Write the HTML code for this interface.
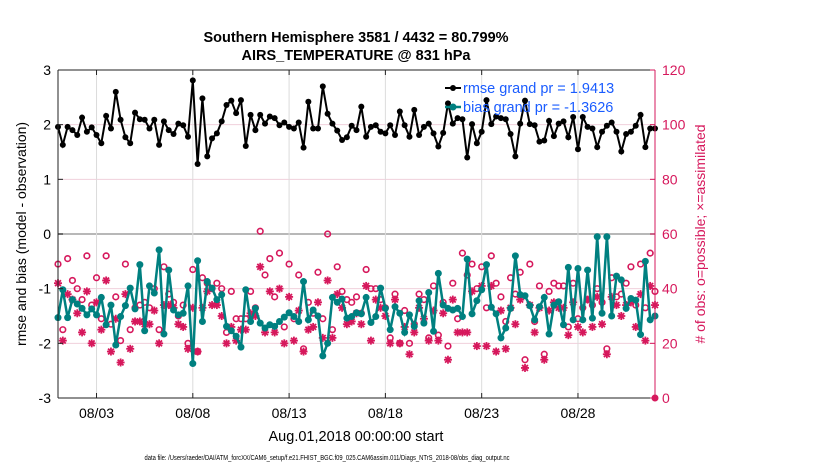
<!DOCTYPE html>
<html><head><meta charset="utf-8"><style>
body{margin:0;background:#fff;}
svg{display:block;font-family:"Liberation Sans",sans-serif;}
</style></head><body>
<svg id="chart" width="830" height="470">
<text x="356" y="42" text-anchor="middle" font-size="14.5" font-weight="bold">Southern Hemisphere 3581 / 4432 = 80.799%</text>
<text x="356" y="60" text-anchor="middle" font-size="14.5" font-weight="bold">AIRS_TEMPERATURE @ 831 hPa</text>
<g id="grid"></g>
<g id="marks"></g>
<g id="axes"></g>
<text x="0" y="0" transform="translate(26,234) rotate(-90)" text-anchor="middle" font-size="14">rmse and bias (model - observation)</text>
<text x="0" y="0" transform="translate(705,234) rotate(-90)" text-anchor="middle" font-size="14" fill="#d6185c"># of obs: o=possible; ×=assimilated</text>
<text x="356" y="441" text-anchor="middle" font-size="14.5">Aug.01,2018 00:00:00 start</text>
<text x="327" y="460" text-anchor="middle" font-size="7" textLength="365" lengthAdjust="spacingAndGlyphs">data file: /Users/raeder/DAI/ATM_forcXX/CAM6_setup/f.e21.FHIST_BGC.f09_025.CAM6assim.011/Diags_NTrS_2018-08/obs_diag_output.nc</text>
<g>
<line x1="445" y1="88" x2="461" y2="88" stroke="#000" stroke-width="2"/><circle cx="453" cy="88" r="3" fill="#000"/>
<text x="463" y="93" font-size="14.5" fill="#1a5cff">rmse grand pr = 1.9413</text>
<line x1="445" y1="107" x2="461" y2="107" stroke="#008080" stroke-width="2.5"/><circle cx="453" cy="107" r="3.5" fill="#008080"/>
<text x="463" y="112" font-size="14.5" fill="#1a5cff">bias grand pr = -1.3626</text>
</g>
</svg>
<script>
const rmse=[1.96,1.63,1.96,1.90,1.81,2.13,1.87,1.95,1.81,1.66,2.16,1.93,2.60,2.09,1.77,1.66,2.22,2.10,2.09,1.93,2.09,
1.63,2.06,1.90,1.83,2.02,1.99,1.78,2.81,1.28,2.48,1.42,1.75,1.84,2.06,2.36,2.44,2.21,2.45,1.61,2.18,1.90,
2.18,2.02,2.15,2.12,1.99,2.04,1.96,1.93,2.04,1.58,2.42,1.93,1.93,2.70,2.20,2.02,1.89,1.72,1.77,1.98,1.90,
2.33,1.78,1.96,1.99,1.87,1.84,1.99,1.81,2.24,1.99,1.78,2.27,1.81,1.96,2.02,1.84,1.60,1.85,2.39,2.02,
2.12,2.10,1.40,2.01,1.66,1.87,2.45,2.01,2.15,2.12,2.10,1.83,1.42,2.02,2.44,2.01,1.99,1.69,1.71,2.07,1.79,2.02,
2.06,1.77,2.14,1.55,2.14,1.96,1.93,1.59,1.87,1.98,2.04,1.87,1.51,1.83,1.87,1.98,2.18,1.59,1.93,1.93];
const bias=[-1.53,-1.02,-1.53,-1.20,-1.28,-1.36,-1.48,-1.37,-1.48,-1.16,-1.66,-1.30,-2.03,-1.51,-1.31,-0.99,-1.37,-0.56,-1.77,-0.95,-1.08,
-0.29,-1.83,-0.66,-1.39,-1.48,-1.45,-0.95,-2.37,-0.49,-1.60,-0.87,-0.99,-1.20,-1.11,-1.69,-1.77,-1.87,-2.07,-1.02,-1.60,-1.36,
-1.63,-1.72,-1.66,-1.69,-1.60,-1.52,-1.44,-1.51,-1.60,-0.87,-1.57,-1.39,-1.50,-2.23,-2.00,-1.16,-1.25,-1.19,-1.54,-1.51,-1.44,
-1.46,-1.16,-1.62,-1.51,-0.99,-1.36,-1.75,-1.33,-1.45,-1.80,-1.48,-1.69,-1.22,-1.63,-1.07,-1.78,-0.72,-1.30,-1.36,-1.39,
-1.36,-1.51,-0.46,-1.46,-1.22,-1.02,-0.56,-1.34,-1.46,-1.90,-1.72,-1.36,-0.40,-1.11,-1.13,-1.31,-1.57,-1.33,-1.16,-1.83,-1.30,-1.24,
-1.66,-0.61,-1.57,-0.63,-1.57,-0.66,-1.54,-0.05,-1.45,-0.05,-1.50,-0.77,-0.84,-1.36,-1.18,-1.21,-1.84,-0.50,-1.57,-1.50];
const possible=[49,25,51,43,40,36,52,34,44,29,52,27,37,21,49,25,33,34,35,33,40,
25,48,38,35,30,34,20,47,17,44,42,40,42,40,24,39,29,29,29,39,33,
61,45,51,37,53,26,49,29,45,18,35,31,46,29,60,25,48,39,36,35,37,
31,47,40,40,36,33,22,38,20,32,20,27,38,36,22,41,23,35,19,42,
29,53,45,49,40,48,33,52,42,37,28,44,38,46,14,49,28,41,16,39,42,41,
41,26,42,29,33,36,34,40,35,18,44,37,38,42,48,34,49,33,53,39];
const assimilated=[42,21,38,36,31,24,39,20,35,25,43,17,29,13,38,18,28,28,27,27,32,
20,34,34,33,27,26,18,33,17,33,39,34,34,30,20,26,21,25,25,31,30,
48,24,39,24,40,20,37,21,32,17,25,26,35,22,43,22,38,33,27,28,31,
27,41,21,36,33,30,20,36,20,26,16,24,33,29,21,32,21,31,14,36,
24,24,24,39,19,41,19,41,17,32,18,33,27,36,11,34,24,33,14,32,35,33,
33,23,35,26,24,36,26,37,27,16,37,34,30,34,35,26,38,21,41,34];
const xTickDays=[2,7,12,17,22,27];
const xTickLabels=["08/03","08/08","08/13","08/18","08/23","08/28"];
const yTicksLeft=[3,2,1,0,-1,-2,-3];
const yTicksRight=[0,20,40,60,80,100,120];

const L=58,R=655,T=70,B=398;
const X=d=>L+(d/31)*(R-L);
const Y=v=>T+(3-v)/6*(B-T);
const Y2=c=>B-c/120*(B-T);
const NS="http://www.w3.org/2000/svg";
function mk(tag,parent,attrs){const e=document.createElementNS(NS,tag);for(const k in attrs)e.setAttribute(k,attrs[k]);parent.appendChild(e);return e;}
const grid=document.getElementById('grid'),marks=document.getElementById('marks'),axes=document.getElementById('axes');
mk('rect',grid,{x:L,y:T,width:R-L,height:B-T,fill:'#fff'});
yTicksLeft.forEach(v=>{if(v===3||v===-3)return;
 const g=mk('line',grid,{x1:L,x2:R,y1:Y(v),y2:Y(v),stroke:v===0?'#b8b8b8':'#f0d0dc','stroke-width':v===0?2:1});
 });
xTickDays.forEach(d=>{const g=mk('line',grid,{x1:X(d),x2:X(d),y1:T,y2:B,stroke:'#dcdcdc','stroke-width':1});
 });
const dayOf=i=>i*0.25;
let p=rmse.map((v,i)=>X(dayOf(i)).toFixed(1)+','+Y(v).toFixed(1)).join(' ');
let ln=mk('polyline',marks,{points:p,fill:'none',stroke:'#000','stroke-width':2});

rmse.forEach((v,i)=>{const c=mk('circle',marks,{cx:X(dayOf(i)),cy:Y(v),r:3,fill:'#000'});
 });
possible.forEach((v,i)=>{const c=mk('circle',marks,{cx:X(dayOf(i)),cy:Y2(v),r:2.8,fill:'none',stroke:'#d6185c','stroke-width':1.6});
 });
assimilated.forEach((v,i)=>{const x=X(dayOf(i)),y=Y2(v);const g=mk('g',marks,{stroke:'#d6185c','stroke-width':1.8});
 
 [[4,0],[0,4],[2.9,2.9],[2.9,-2.9]].forEach(([a,b])=>mk('line',g,{x1:x-a,y1:y-b,x2:x+a,y2:y+b}));});
p=bias.map((v,i)=>X(dayOf(i)).toFixed(1)+','+Y(v).toFixed(1)).join(' ');
ln=mk('polyline',marks,{points:p,fill:'none',stroke:'#008080','stroke-width':2.5});

bias.forEach((v,i)=>{const c=mk('circle',marks,{cx:X(dayOf(i)),cy:Y(v),r:3.5,fill:'#008080'});
 });
const em=mk('circle',marks,{cx:R,cy:B,r:3.5,fill:'#d6185c'});

mk('line',axes,{x1:L,x2:R,y1:T,y2:T,stroke:'#222','stroke-width':1});
mk('line',axes,{x1:L,x2:R,y1:B,y2:B,stroke:'#222','stroke-width':1});
mk('line',axes,{x1:L,x2:L,y1:T,y2:B,stroke:'#222','stroke-width':1});
mk('line',axes,{x1:R,x2:R,y1:T,y2:B,stroke:'#d6185c','stroke-width':1});
yTicksLeft.forEach(v=>{mk('line',axes,{x1:L,x2:L+5,y1:Y(v),y2:Y(v),stroke:'#222'});
 const t=mk('text',axes,{x:L-7,y:Y(v)+5,'text-anchor':'end','font-size':14});t.textContent=v;
 });
yTicksRight.forEach(v=>{mk('line',axes,{x1:R-5,x2:R,y1:Y2(v),y2:Y2(v),stroke:'#d6185c'});
 const t=mk('text',axes,{x:R+7,y:Y2(v)+5,'font-size':14,fill:'#d6185c'});t.textContent=v;
 });
xTickDays.forEach((d,i)=>{mk('line',axes,{x1:X(d),x2:X(d),y1:B,y2:B-5,stroke:'#222'});mk('line',axes,{x1:X(d),x2:X(d),y1:T,y2:T+5,stroke:'#222'});
 const t=mk('text',axes,{x:X(d),y:B+20,'text-anchor':'middle','font-size':14});t.textContent=xTickLabels[i];
 });
</script>
</body></html>
